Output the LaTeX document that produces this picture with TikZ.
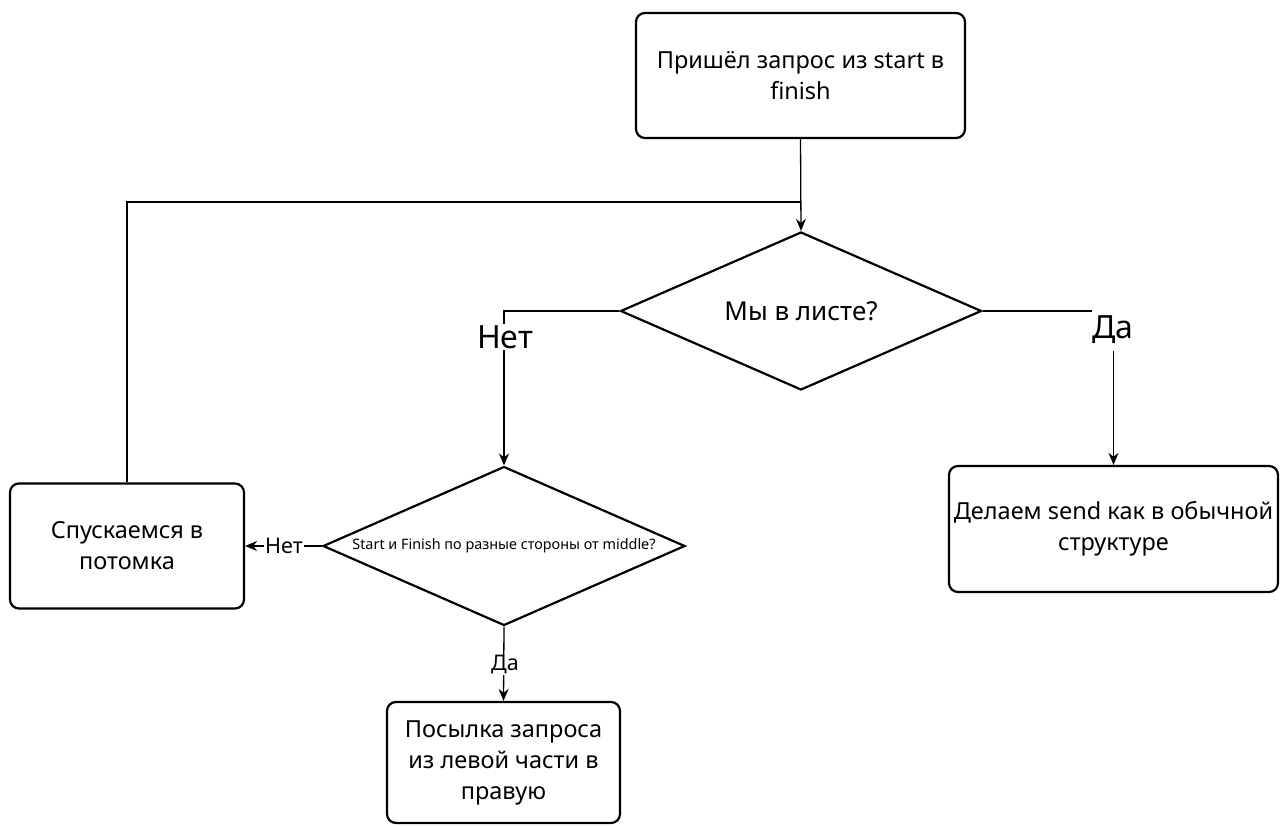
\documentclass[tikz,border=0pt]{standalone}
\usepackage{fontspec}
\setmainfont{Noto Sans}
\usetikzlibrary{shapes.geometric,arrows.meta}

\tikzset{
  box/.style={draw, line width=2.2pt, rounded corners=9pt, align=center,
    inner sep=0pt, font=\fontsize{23.5}{31}\selectfont},
  decision/.style={draw, diamond, line width=2.2pt, inner sep=0pt},
  question/.style={align=center, inner sep=0pt},
  link/.style={line width=1.3pt},
  arrow/.style={link, -{Stealth[length=12pt,width=10pt]}},
  biglbl/.style={fill=white, inner sep=1pt, font=\fontsize{32}{34}\selectfont},
  lbl/.style={fill=white, inner sep=1pt, font=\fontsize{21.5}{22}\selectfont}
}

\begin{document}
\begin{tikzpicture}[x=1pt, y=-1pt]
  \useasboundingbox (0,0) rectangle (1284,826);

  % process boxes
  \node[box, minimum width=329pt, minimum height=125pt] (start) at (800.5,75.5)
    {Пришёл запрос из start в\\finish};
  \node[box, minimum width=329pt, minimum height=126pt] (send) at (1113.5,529)
    {Делаем send как в обычной\\структуре};
  \node[box, minimum width=234pt, minimum height=125pt] (down) at (127,546)
    {Спускаемся в\\потомка};
  \node[box, minimum width=233pt, minimum height=121pt] (pass) at (503.5,762.5)
    {Посылка запроса\\из левой части в\\правую};

  % decisions: outline first, question text on top
  \node[decision, minimum width=361pt, minimum height=158pt] (leaf) at (801,311) {};
  \node[question, font=\fontsize{26}{30}\selectfont] (leafq) at (leaf.center) {Мы в листе?};
  \node[decision, minimum width=362pt, minimum height=159pt] (side) at (504,546) {};
  \node[question, font=\fontsize{14.4}{17}\selectfont] (sideq) at (side.center)
    {Start и Finish по разные стороны от middle?};

  % junction where the loop joins the main line
  \coordinate (join) at (start.south |- 0,202);

  % connectors
  \draw[arrow] (start.south) -- (leaf.north);
  \draw[link] (down.north) |- (join);
  \draw[arrow] (leaf.east) -| (send.north);
  \draw[arrow] (leaf.west) -| (side.north);
  \draw[arrow] (side.west) -- (down.east);
  \draw[arrow] (side.south) -- (pass.north);

  % branch labels
  \node[biglbl, inner xsep=0pt, inner ysep=0pt, text depth=5pt,
        minimum height=42pt] (yes1) at (1113,330) {Да};
  \node[biglbl] (no1) at (505,337) {Нет};
  \node[lbl] (no2) at (284,546) {Нет};
  \node[lbl] (yes2) at (505,665) {Да};
\end{tikzpicture}
\end{document}
